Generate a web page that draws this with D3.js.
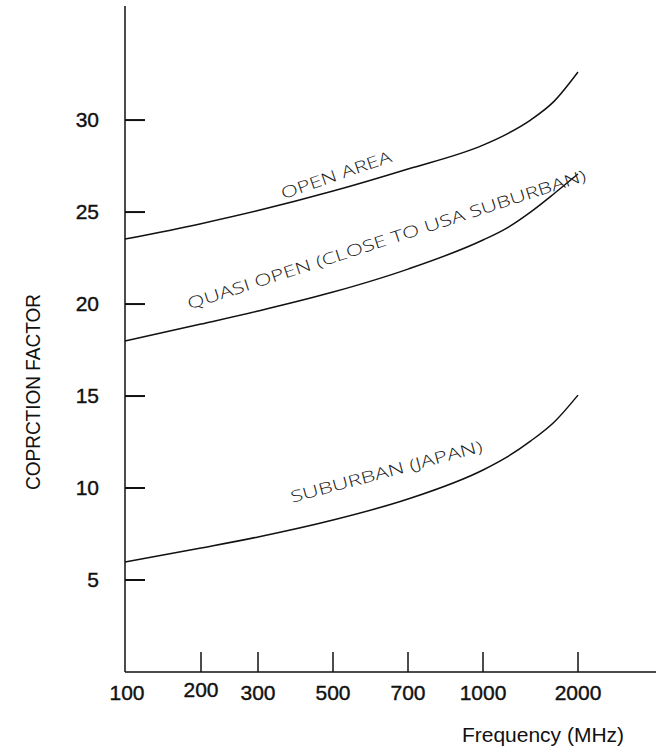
<!DOCTYPE html>
<html>
<head>
<meta charset="utf-8">
<title>Correction factor vs frequency</title>
<style>
  body { margin: 0; background: #fff; }
  svg { display: block; }
  .tick-label { font-family: "Liberation Sans", Arial, sans-serif; font-size: 21px; fill: #111; stroke: #111; stroke-width: 0.4; }
  .axis-title { font-family: "Liberation Sans", Arial, sans-serif; font-size: 21px; fill: #111; }
  .curve-label { font-family: "Open Sans", "Noto Sans", sans-serif; font-weight: 300; font-size: 16px; fill: #222; }
</style>
</head>
<body>
<div id="chart"></div>
<script src="https://cdn.jsdelivr.net/npm/d3@7"></script>
<script>

// frequency ticks (MHz) on the hand-spaced x axis
var freqTicks = [100, 200, 300, 500, 700, 1000, 2000];
var valueTicks = [5, 10, 15, 20, 25, 30];

// curves: frequency (MHz) -> correction factor
var freqs = [100, 200, 300, 500, 700, 1000, 1250, 1500, 1750, 2000];
var openArea  = [23.53, 24.37, 25.08, 26.14, 27.34, 28.64, 29.24, 30.00, 31.03, 32.61];
var quasiOpen = [17.99, 18.91, 19.62, 20.65, 21.90, 23.48, 24.13, 25.00, 26.01, 27.07];
var suburban  = [5.98, 6.74, 7.34, 8.26, 9.40, 10.98, 11.68, 12.55, 13.59, 15.05];

var seriesLabels = [
  { text: "OPEN AREA", f: 367, v: 25.7, angle: -19, len: 116 },
  { text: "QUASI OPEN (CLOSE TO USA SUBURBAN)", f: 185, v: 19.7, angle: -18, len: 418 },
  { text: "SUBURBAN (JAPAN)", f: 391, v: 9.2, angle: -15, len: 198 }
];

var width = 656, height = 748;
var margin = { left: 125, bottom: 672, top: 6 };

var svg = d3.select("#chart").append("svg")
    .attr("width", width)
    .attr("height", height);

// the original axis is not logarithmic, so map each tick to its own spot
var x = d3.scaleLinear()
    .domain(freqTicks)
    .range([0, 76, 133, 208, 283, 358, 453].map(function(p) { return margin.left + p; }));

var y = d3.scaleLinear()
    .domain([0, 36.2])
    .range([margin.bottom, margin.top]);

var line = d3.line()
    .x(function(d) { return x(d[0]); })
    .y(function(d) { return y(d[1]); })
    .curve(d3.curveMonotoneX);

// axes
svg.append("line")
    .attr("x1", margin.left).attr("x2", margin.left)
    .attr("y1", margin.top).attr("y2", margin.bottom)
    .attr("stroke", "#111").attr("stroke-width", 1.5);

svg.append("line")
    .attr("x1", margin.left).attr("x2", width)
    .attr("y1", margin.bottom).attr("y2", margin.bottom)
    .attr("stroke", "#111").attr("stroke-width", 1.5);

svg.append("g")
    .selectAll("line")
    .data(valueTicks)
    .enter().append("line")
    .attr("x1", margin.left).attr("x2", margin.left + 20)
    .attr("y1", function(d) { return y(d); })
    .attr("y2", function(d) { return y(d); })
    .attr("stroke", "#111").attr("stroke-width", 2);

svg.append("g")
    .selectAll("text")
    .data(valueTicks)
    .enter().append("text")
    .attr("class", "tick-label")
    .attr("x", 99)
    .attr("y", function(d) { return y(d) + 7; })
    .attr("text-anchor", "end")
    .text(function(d) { return d; });

svg.append("g")
    .selectAll("line")
    .data(freqTicks.slice(1))
    .enter().append("line")
    .attr("x1", function(d) { return x(d); })
    .attr("x2", function(d) { return x(d); })
    .attr("y1", margin.bottom).attr("y2", margin.bottom - 20)
    .attr("stroke", "#111").attr("stroke-width", 1.5);

svg.append("g")
    .selectAll("text")
    .data(freqTicks)
    .enter().append("text")
    .attr("class", "tick-label")
    .attr("x", function(d) { return x(d) + (d == 100 ? 2 : 0); })
    .attr("y", function(d) { return d == 200 ? 697 : 700; })
    .attr("text-anchor", "middle")
    .text(function(d) { return d; });

svg.append("text")
    .attr("class", "axis-title")
    .attr("x", 543)
    .attr("y", 742)
    .attr("text-anchor", "middle")
    .text("Frequency (MHz)");

svg.append("text")
    .attr("class", "axis-title")
    .attr("transform", "translate(40,392) rotate(-90)")
    .attr("text-anchor", "middle")
    .attr("textLength", 196)
    .attr("lengthAdjust", "spacingAndGlyphs")
    .text("COPRCTION FACTOR");

// curves
var curves = [openArea, quasiOpen, suburban];
svg.append("g")
    .selectAll("path")
    .data(curves)
    .enter().append("path")
    .attr("d", function(vals) {
        return line(vals.map(function(v, i) { return [freqs[i], v]; }));
    })
    .attr("fill", "none")
    .attr("stroke", "#111")
    .attr("stroke-width", 1.5);

svg.append("g")
    .selectAll("text")
    .data(seriesLabels)
    .enter().append("text")
    .attr("class", "curve-label")
    .attr("transform", function(d) {
        return "translate(" + x(d.f) + "," + y(d.v) + ") rotate(" + d.angle + ")";
    })
    .attr("textLength", function(d) { return d.len; })
    .attr("lengthAdjust", "spacingAndGlyphs")
    .text(function(d) { return d.text; });

</script>
</body>
</html>
